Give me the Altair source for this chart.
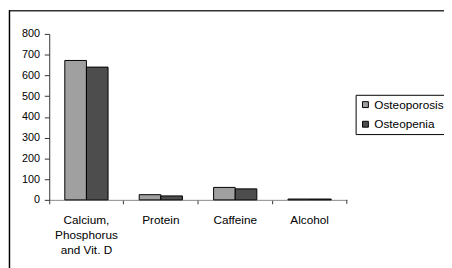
import altair as alt
import pandas as pd

categories = ["Calcium, Phosphorus and Vit. D", "Protein", "Caffeine", "Alcohol"]
series = ["Osteoporosis", "Osteopenia"]
osteoporosis = [672, 25, 60, 4]
osteopenia = [640, 19, 53, 4]
y_ticks = [0, 100, 200, 300, 400, 500, 600, 700, 800]
colors = ["#A0A0A0", "#4D4D4D"]

rows = []
for i, c in enumerate(categories):
    rows.append({"category": c, "series": series[0], "value": osteoporosis[i]})
    rows.append({"category": c, "series": series[1], "value": osteopenia[i]})
df = pd.DataFrame(rows)

FONT = "Liberation Sans"
W, H = 303, 169

bars = alt.Chart(df).mark_bar(stroke="black", strokeWidth=1).encode(
    x=alt.X("category:N", sort=categories,
            scale=alt.Scale(paddingInner=0, paddingOuter=0),
            axis=alt.Axis(title=None, labelAngle=0, bandPosition=0, tickSize=4,
                          labelPadding=11, labelFontSize=12, labelFont=FONT,
                          labelColor="black", domainColor="#888888", tickColor="#333333",
                          labelLineHeight=15.5,
                          labelExpr="datum.value == 'Calcium, Phosphorus and Vit. D' ? ['Calcium,', 'Phosphorus', 'and Vit. D'] : datum.value")),
    xOffset=alt.XOffset("series:N", sort=series,
                        scale=alt.Scale(paddingOuter=0.72, paddingInner=0)),
    y=alt.Y("value:Q", scale=alt.Scale(domain=[0, 800]),
            axis=alt.Axis(title=None, values=y_ticks, grid=False, tickSize=5,
                          labelPadding=5, labelFontSize=11, labelFont=FONT,
                          labelColor="black", domainColor="#333333", tickColor="#333333")),
    color=alt.Color("series:N", sort=series,
                    scale=alt.Scale(domain=series, range=colors),
                    legend=alt.Legend(title=None, orient="none", legendX=312, legendY=62,
                                      symbolType="square", symbolSize=36,
                                      symbolStrokeColor="black", symbolStrokeWidth=1,
                                      labelFontSize=12, labelFont=FONT, labelColor="black",
                                      labelOffset=3, rowPadding=8, padding=4,
                                      strokeColor="black", fillColor="white")),
)

one = alt.Data(values=[{}])
end_tick = alt.Chart(one).mark_rule(color="#333333").encode(
    x=alt.value(W), y=alt.value(H), y2=alt.value(H + 4))
frame_top = alt.Chart(one).mark_rule(color="#333333", strokeWidth=1.5).encode(
    x=alt.value(-41), x2=alt.value(W + 120), y=alt.value(-23.5))
frame_left = alt.Chart(one).mark_rule(color="black", strokeWidth=1.5).encode(
    x=alt.value(-40.5), y=alt.value(-24), y2=alt.value(H + 80))

chart = alt.layer(bars, end_tick, frame_top, frame_left).properties(
    width=W, height=H,
    padding={"left": 42, "top": 24, "right": 99, "bottom": 67},
    autosize="none",
).configure_view(stroke=None)

chart.save("out.html", embed_options={"renderer": "svg", "actions": False})
